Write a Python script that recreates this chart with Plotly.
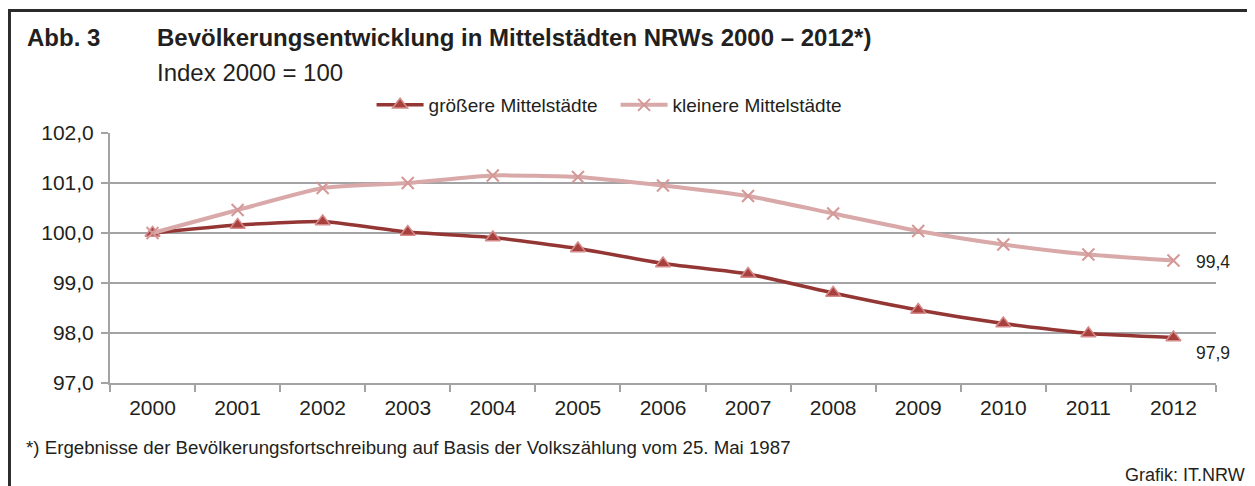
import plotly.graph_objects as go

years = list(range(2000, 2013))
groessere = [100.0, 100.16, 100.23, 100.02, 99.91, 99.69, 99.39, 99.18, 98.80, 98.46, 98.19, 97.99, 97.91]
kleinere = [100.0, 100.46, 100.90, 101.00, 101.15, 101.12, 100.95, 100.74, 100.39, 100.04, 99.77, 99.57, 99.45]
end_labels = ["97,9", "99,4"]

FONT = "Liberation Sans, Arial, sans-serif"
GRID = "#A3A3A6"
TXT = "#231F20"

fig = go.Figure()
fig.add_trace(go.Scatter(x=years, y=groessere, name="größere Mittelstädte",
                         mode="lines+markers", line=dict(color="#943634", width=3.5, shape="spline", smoothing=0.5),
                         marker=dict(symbol="triangle-up", size=13, color="#A8403E",
                                     line=dict(color="#D48A89", width=1.5))))
fig.add_trace(go.Scatter(x=years, y=kleinere, name="kleinere Mittelstädte",
                         mode="lines+markers", line=dict(color="#D8A9A8", width=4, shape="spline", smoothing=0.5),
                         marker=dict(symbol="x-thin", size=12, color="#D8A9A8",
                                     line=dict(color="#D49896", width=2))))

# value labels at the end of each series
fig.add_annotation(x=years[-1], y=groessere[-1], text=end_labels[0], showarrow=False,
                   xanchor="left", yanchor="middle", xshift=21, yshift=-15,
                   font=dict(size=17.5, color=TXT, family=FONT))
fig.add_annotation(x=years[-1], y=kleinere[-1], text=end_labels[1], showarrow=False,
                   xanchor="left", yanchor="middle", xshift=21, yshift=-1,
                   font=dict(size=17.5, color=TXT, family=FONT))

# titles and notes
fig.add_annotation(xref="paper", yref="paper", x=-0.0765, y=1.384, text="<b>Abb. 3</b>", showarrow=False,
                   xanchor="left", yanchor="middle", font=dict(size=24, color=TXT, family=FONT))
fig.add_annotation(xref="paper", yref="paper", x=0.0407, y=1.384,
                   text="<b>Bevölkerungsentwicklung in Mittelstädten NRWs 2000 – 2012*)</b>", showarrow=False,
                   xanchor="left", yanchor="middle", font=dict(size=24, color=TXT, family=FONT))
fig.add_annotation(xref="paper", yref="paper", x=0.0407, y=1.244, text="Index 2000 = 100", showarrow=False,
                   xanchor="left", yanchor="middle", font=dict(size=24, color=TXT, family=FONT))
fig.add_annotation(xref="paper", yref="paper", x=-0.0778, y=-0.256,
                   text="*) Ergebnisse der Bevölkerungsfortschreibung auf Basis der Volkszählung vom 25. Mai 1987",
                   showarrow=False, xanchor="left", yanchor="middle",
                   font=dict(size=18.7, color=TXT, family=FONT))
fig.add_annotation(xref="paper", yref="paper", x=1.028, y=-0.368, text="Grafik: IT.NRW", showarrow=False,
                   xanchor="right", yanchor="middle", font=dict(size=18, color=TXT, family=FONT))

# outer frame
fig.add_shape(type="rect", xref="paper", yref="paper", x0=-0.0909, x1=1.05, y0=-0.48, y1=1.49,
              line=dict(color="#2B2B2B", width=3), layer="below")

# page body has an 8px margin, so the figure is 8px smaller than the window
fig.update_layout(
    width=1247, height=478,
    margin=dict(l=102, r=39, t=125, b=103, autoexpand=False),
    paper_bgcolor="white", plot_bgcolor="white",
    separators=",.",
    font=dict(family=FONT, size=21, color=TXT),
    showlegend=True,
    legend=dict(orientation="h", x=0.2365, y=1.112, xanchor="left", yanchor="middle",
                font=dict(size=19), itemwidth=47, entrywidth=182, bgcolor="rgba(0,0,0,0)"),
)
fig.update_xaxes(range=[1999.5, 2012.5], tickmode="array", tickvals=years, ticks="",
                 minor=dict(tickmode="array", tickvals=[y - 0.5 for y in years] + [years[-1] + 0.5],
                            ticks="outside", ticklen=7, tickwidth=2, tickcolor=GRID, showgrid=False),
                 showline=True, linecolor=GRID, linewidth=2, showgrid=False, zeroline=False,
                 tickfont=dict(size=21), ticklabelstandoff=5, automargin=False)
fig.update_yaxes(range=[97, 102], dtick=1, tickformat=".1f", ticks="outside", ticklen=7, tickwidth=2,
                 tickcolor=GRID, showline=True, linecolor=GRID, linewidth=2, showgrid=True,
                 gridcolor=GRID, gridwidth=2, zeroline=False, tickfont=dict(size=21),
                 ticklabelstandoff=3, automargin=False)

fig.write_html("out.html")
